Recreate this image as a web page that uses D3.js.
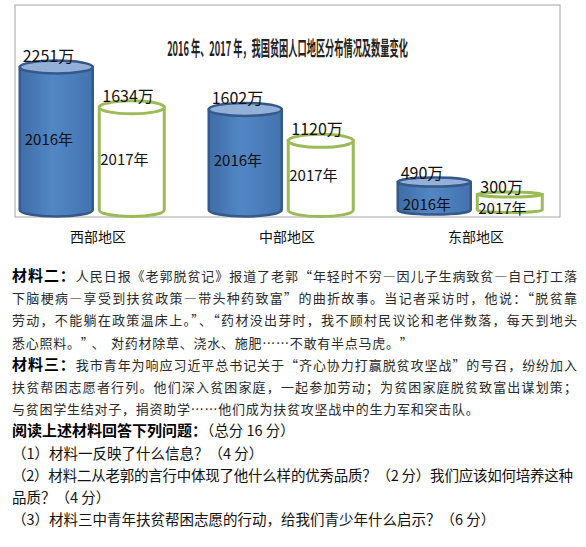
<!DOCTYPE html>
<html lang="zh-CN">
<head>
<meta charset="utf-8">
<script src="https://cdn.jsdelivr.net/npm/d3@7"></script>
<style>
  body { margin: 0; background: #fff; }
  text { font-family: "Noto Sans CJK SC", "Noto Sans", sans-serif; }
</style>
</head>
<body>
<div id="graph"></div>
<script>
// chart data
var regions = ["西部地区", "中部地区", "东部地区"];
var years = ["2016", "2017"];
var values2016 = [2251, 1602, 490];
var values2017 = [1634, 1120, 300];
var unit = "万";
var yearSuffix = "年";
var titleText = "2016 年、2017 年，我国贫困人口地区分布情况及数量变化";

// passage below the chart: [bold prefix, rest, justify?]
var passageLines = [
    ["材料二：", "人民日报《老郭脱贫记》报道了老郭“年轻时不穷—因儿子生病致贫—自己打工落", true],
    ["", "下脑梗病—享受到扶贫政策—带头种药致富”的曲折故事。当记者采访时，他说：“脱贫靠", true],
    ["", "劳动，不能躺在政策温床上。”、“药材没出芽时，我不顾村民议论和老伴数落，每天到地头", true],
    ["", "悉心照料。”、“对药材除草、浇水、施肥……不敢有半点马虎。”", false],
    ["材料三：", "我市青年为响应习近平总书记关于“齐心协力打赢脱贫攻坚战”的号召，纷纷加入", true],
    ["", "扶贫帮困志愿者行列。他们深入贫困家庭，一起参加劳动；为贫困家庭脱贫致富出谋划策；", true],
    ["", "与贫困学生结对子，捐资助学……他们成为扶贫攻坚战中的生力军和突击队。", false]
];
var questionLines = [
    ["阅读上述材料回答下列问题：", "（总分 16 分）", false],
    ["", "（1）材料一反映了什么信息？（4 分）", false],
    ["", "（2）材料二从老郭的言行中体现了他什么样的优秀品质？（2 分）我们应该如何培养这种", true],
    ["", "品质？（4 分）", false],
    ["", "（3）材料三中青年扶贫帮困志愿的行动，给我们青少年什么启示？（6 分）", false]
];

var W = 586, H = 547;

var svg = d3.select("#graph")
    .append("svg")
    .attr("width", W)
    .attr("height", H);

svg.append("rect").attr("width", W).attr("height", H).attr("fill", "#fff");

// gradient for the blue cylinders
var defs = svg.append("defs");
var grad = defs.append("linearGradient").attr("id", "blueBody")
    .attr("x1", "0%").attr("x2", "100%").attr("y1", "0%").attr("y2", "0%");
grad.append("stop").attr("offset", "0%").attr("stop-color", "#3f6da7");
grad.append("stop").attr("offset", "45%").attr("stop-color", "#5287c5");
grad.append("stop").attr("offset", "100%").attr("stop-color", "#4373af");

// chart frame
svg.append("rect")
    .attr("x", 15).attr("y", 5)
    .attr("width", 545).attr("height", 212)
    .attr("fill", "none")
    .attr("stroke", "#a6a6a6")
    .attr("stroke-width", 1);

// title, squeezed to the narrow look of the original
var title = svg.append("text")
    .attr("x", 0).attr("y", 0)
    .attr("text-anchor", "middle")
    .style("font-size", "20px")
    .style("font-weight", "bold")
    .style("fill", "#222")
    .text(titleText);
var tl = title.node().getComputedTextLength();
title.attr("transform", "translate(287.5,56) scale(" + (241 / tl) + ",1)");

// scales
var x0 = d3.scalePoint().domain(regions).range([94, 472]);
var x1 = d3.scaleBand().domain(years).range([-74, 74]).paddingInner(0.04);
var y = d3.scaleLinear().domain([0, d3.max(values2016)]).range([214, 67]);
var base = 210;

var data = [];
regions.forEach(function (r, i) {
    data.push({ region: r, year: "2016", value: values2016[i] });
    data.push({ region: r, year: "2017", value: values2017[i] });
});

var style = {
    "2016": { w: 73, fill: "url(#blueBody)", top: "#93b0d8", stroke: "#36598a", sw: 2.5, lx: 5 },
    "2017": { w: 65, fill: "#fff", top: "#fff", stroke: "#9bbb59", sw: 3, lx: 1 }
};

var cyl = svg.append("g").selectAll("g")
    .data(data)
    .enter().append("g");

cyl.each(function (d) {
    var g = d3.select(this);
    var s = style[d.year];
    var cx = x0(d.region) + x1(d.year) + x1.bandwidth() / 2;
    var rx = s.w / 2;
    var top = y(d.value);
    var h = base - top;
    var ry = Math.min(6.5, h * 0.16);

    g.append("path")
        .attr("d", "M" + (cx - rx) + "," + top + "L" + (cx - rx) + "," + base +
            "A" + rx + "," + ry + " 0 0 0 " + (cx + rx) + "," + base +
            "L" + (cx + rx) + "," + top + "Z")
        .attr("fill", s.fill)
        .attr("stroke", s.stroke)
        .attr("stroke-width", s.sw);

    g.append("ellipse")
        .attr("cx", cx).attr("cy", top)
        .attr("rx", rx).attr("ry", ry)
        .attr("fill", s.top)
        .attr("stroke", s.stroke)
        .attr("stroke-width", s.sw);

    // value on top
    g.append("text")
        .attr("x", cx - rx + 3)
        .attr("y", top - ry + 1)
        .style("font-size", "16px")
        .style("fill", "#111")
        .text(d.value + unit);

    // year inside
    var ly = Math.min(Math.max((top + base) / 2 + 6, top + 28), base + 4);
    g.append("text")
        .attr("x", cx - rx + s.lx)
        .attr("y", ly)
        .style("font-size", "15px")
        .style("fill", "#111")
        .text(d.year + yearSuffix);
});

// category labels
svg.append("g").selectAll("text")
    .data(regions)
    .enter().append("text")
    .attr("x", function (d) { return x0(d) + 4; })
    .attr("y", 242)
    .attr("text-anchor", "middle")
    .style("font-size", "14px")
    .style("fill", "#111")
    .text(function (d) { return d; });

// text block
var lineStart = 276, lineStep = 22.2, left = 12;

// the original body font is fixed pitch, quotes take less than a cell
function cellXs(s, pitch) {
    var xs = [], pos = left;
    for (const c of s) {
        xs.push(pos.toFixed(1));
        pos += (c === "“" ? 0.4 : c === "”" ? 0.8 : 1) * pitch;
    }
    return xs.join(" ");
}

function writeLine(line, i, opts) {
    var t = svg.append("text")
        .attr("x", left)
        .attr("y", lineStart + i * lineStep + 5)
        .style("font-size", opts.size)
        .style("fill", opts.color);
    if (line[0]) {
        t.append("tspan")
            .style("font-weight", "bold")
            .style("font-size", opts.boldSize)
            .style("fill", "#000")
            .text(line[0]);
    }
    var body = t.append("tspan").text(line[1]);
    if (opts.fullWidth) body.style("font-feature-settings", "\"fwid\" 1");
    if (line[2]) {
        t.attr("textLength", opts.right - left).attr("lengthAdjust", "spacing");
    } else if (opts.pitch && !line[0]) {
        t.attr("x", cellXs(line[1], opts.pitch));
    }
}

passageLines.forEach(function (line, i) {
    writeLine(line, i, { size: "13px", pitch: 13.75, fullWidth: true, boldSize: "15px", color: "#2a2a2a", right: 577 });
});
questionLines.forEach(function (line, i) {
    writeLine(line, passageLines.length + i, { size: "14.5px", pitch: 0, fullWidth: false, boldSize: "15px", color: "#111", right: 573 });
});
</script>
</body>
</html>
